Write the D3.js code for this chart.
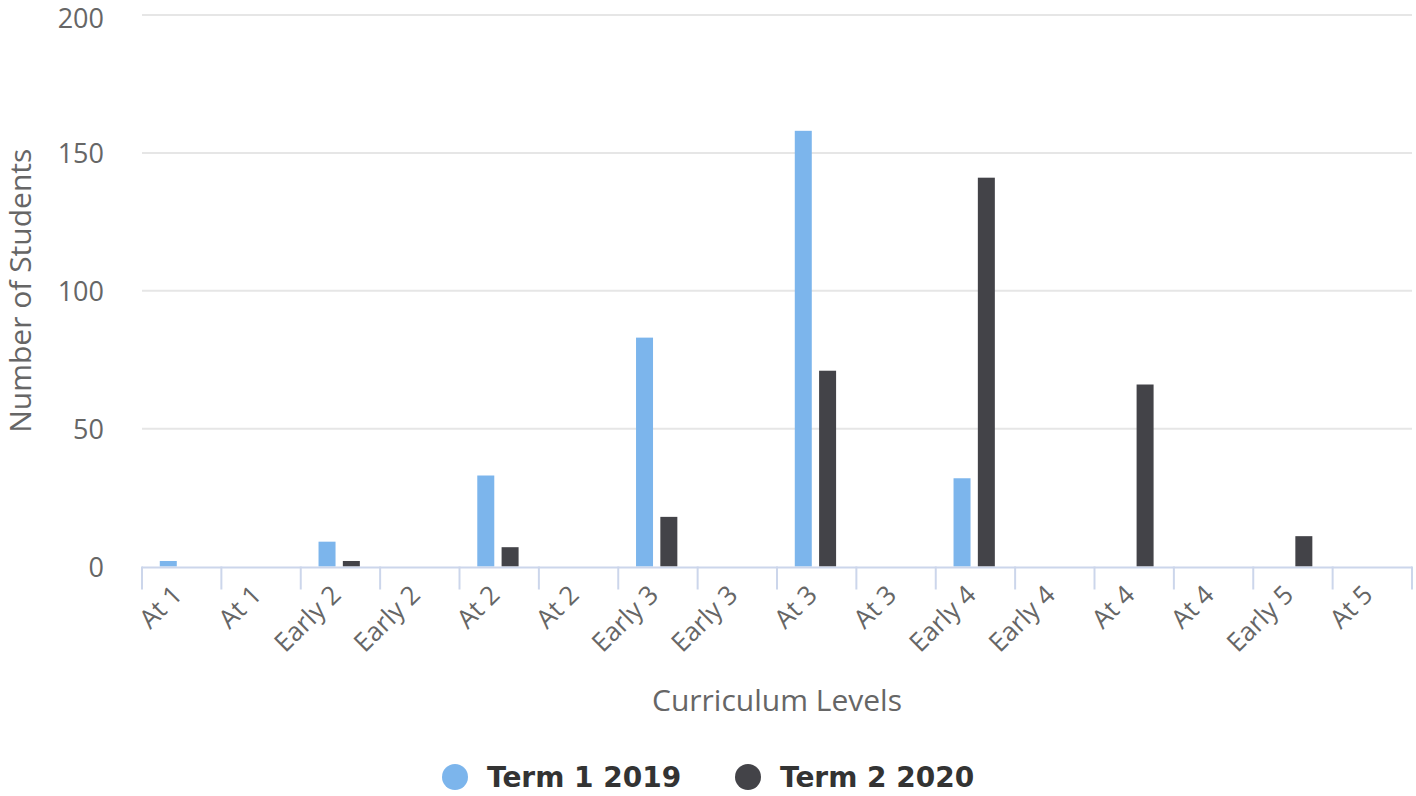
<!DOCTYPE html>
<html>
<head>
<meta charset="utf-8">
<script src="https://cdn.jsdelivr.net/npm/d3@7"></script>
<style>
  html, body { margin: 0; padding: 0; background: #fff; }
  svg { display: block; }
</style>
</head>
<body>
<svg id="chart" width="1416" height="796"></svg>
<script>
const categories = ["At 1", "At 1", "Early 2", "Early 2", "At 2", "At 2", "Early 3", "Early 3",
                    "At 3", "At 3", "Early 4", "Early 4", "At 4", "At 4", "Early 5", "At 5"];
const term1_2019 = [2, 0, 9, 0, 33, 0, 83, 0, 158, 0, 32, 0, 0, 0, 0, 0];
const term2_2020 = [0, 0, 2, 0, 7, 0, 18, 0, 71, 0, 141, 0, 66, 0, 11, 0];
const seriesNames = ["Term 1 2019", "Term 2 2020"];
const seriesColors = ["#7cb5ec", "#434348"];
const yTicks = [0, 50, 100, 150, 200];

const svg = d3.select("#chart");
const m = { left: 142, right: 1412, top: 15, bottom: 566.5 };
const font = "'Open Sans', sans-serif";

const idx = d3.range(categories.length);
const x = d3.scaleBand().domain(idx).range([m.left, m.right]).paddingInner(0).paddingOuter(0);
const y = d3.scaleLinear().domain([0, 200]).range([m.bottom, m.top]);
const seriesData = [term1_2019, term2_2020];
const groupPad = 0.2 * x.bandwidth();
const slot = (x.bandwidth() - 2 * groupPad) / seriesData.length;
const barW = 17;

// gridlines
svg.append("g").selectAll("line").data(yTicks.filter(d => d > 0)).join("line")
  .attr("x1", m.left).attr("x2", m.right)
  .attr("y1", d => y(d)).attr("y2", d => y(d))
  .attr("stroke", "#e6e6e6").attr("stroke-width", 2);

// y axis labels
svg.append("g").selectAll("text").data(yTicks).join("text")
  .attr("x", 104).attr("y", d => Math.max(y(d) + 10, 28))
  .attr("text-anchor", "end")
  .attr("font-family", font).attr("font-size", 27).attr("fill", "#666666")
  .text(d => d);

// bars
seriesData.forEach((vals, s) => {
  svg.append("g").selectAll("rect").data(idx.filter(i => vals[i] > 0)).join("rect")
    .attr("x", i => x(i) + groupPad + slot * s + slot / 2 - barW / 2 + (s === 0 ? -1.5 : -1))
    .attr("width", barW)
    .attr("y", i => y(vals[i]))
    .attr("height", i => y(0) - y(vals[i]))
    .attr("fill", seriesColors[s]);
});

// x axis
const xAxis = d3.axisBottom(x).tickSize(0).tickFormat(i => categories[i]);
const gx = svg.append("g").attr("transform", `translate(0,${m.bottom})`).call(xAxis);
gx.select(".domain").remove();
gx.selectAll("text")
  .attr("font-family", font).attr("font-size", 26).attr("fill", "#666666")
  .attr("text-anchor", "end")
  .attr("dy", null).attr("y", 0).attr("x", 0)
  .attr("transform", "translate(2,30) rotate(-45)");

svg.append("line").attr("x1", m.left).attr("x2", m.right)
  .attr("y1", m.bottom + 1).attr("y2", m.bottom + 1)
  .attr("stroke", "#ccd6eb").attr("stroke-width", 2);
const bounds = idx.map(i => x(i)).concat([m.right]);
svg.append("g").selectAll("line").data(bounds).join("line")
  .attr("x1", d => d).attr("x2", d => d)
  .attr("y1", m.bottom).attr("y2", m.bottom + 23)
  .attr("stroke", "#ccd6eb").attr("stroke-width", 2);

// axis titles
svg.append("text")
  .attr("transform", `translate(31,${(m.top + m.bottom) / 2}) rotate(-90)`)
  .attr("text-anchor", "middle")
  .attr("font-family", font).attr("font-size", 30).attr("fill", "#666666")
  .text("Number of Students");
svg.append("text")
  .attr("x", (m.left + m.right) / 2).attr("y", 711)
  .attr("text-anchor", "middle")
  .attr("font-family", font).attr("font-size", 30).attr("fill", "#666666")
  .text("Curriculum Levels");

// legend
const legendX = [455, 748];
const lg = svg.append("g").selectAll("g").data(seriesNames).join("g")
  .attr("transform", (d, i) => `translate(${legendX[i]},777)`);
lg.append("circle").attr("r", 13).attr("fill", (d, i) => seriesColors[i]);
lg.append("text").attr("x", 32).attr("y", 10)
  .attr("font-family", "'DejaVu Sans', sans-serif").attr("font-weight", "bold")
  .attr("font-size", 28).attr("fill", "#333333")
  .text(d => d);
</script>
</body>
</html>
